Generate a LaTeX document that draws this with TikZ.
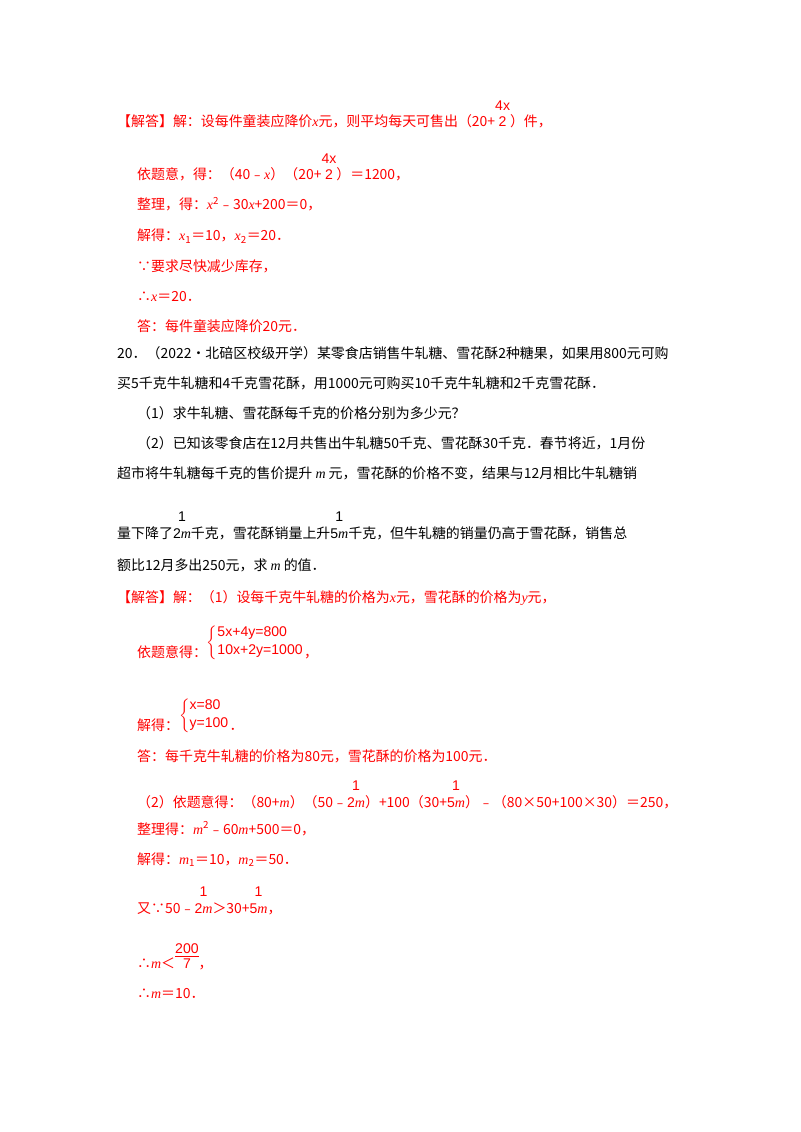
\documentclass[tikz,border=0pt]{standalone}
\usepackage{fontspec}
\setmainfont{Noto Sans CJK SC}
\newfontfamily\lser{Liberation Serif}
\newfontfamily\lsans{Liberation Sans}
\definecolor{ansred}{RGB}{255,0,0}
\newcommand\vr[1]{{\lser\itshape #1}}
\newcommand\fr[2]{\begin{tabular}[b]{@{}c@{}}{\lsans\large #1}\\[0em]{\lsans\large #2}\end{tabular}}
\newcommand\frl[2]{\begin{tabular}[b]{@{}c@{}}{\lsans\large #1}\\[-0.2em]\hline{\lsans\large #2}\end{tabular}}
\newcommand\sys[2]{\raisebox{0.8em}{$\left\{\begin{array}{@{}l@{}}\text{\lsans\large #1}\\[0.1em]\text{\lsans\large #2}\end{array}\right.$}}
\usepackage{amsmath}
\tikzset{
  ln/.style={anchor=base west, inner sep=0pt, font=\fontsize{11.9}{14}\selectfont},
  ans/.style={ln, text=ansred}
}
\begin{document}
\begin{tikzpicture}[x=0.03cm,y=-0.03cm]
\useasboundingbox (0,0) rectangle (800,1132);
% first answer
\node[ans] (a1) at (117,127) {【解答】解：设每件童装应降价\vr{x}元，则平均每天可售出（20+\fr{4x}{2}）件，};
\node[ans] (a2) at (137,180) {依题意，得：（40﹣\vr{x}）（20+\fr{4x}{2}）＝1200，};
\node[ans] (a3) at (137,210) {整理，得：\vr{x}\textsuperscript{2}﹣30\vr{x}+200＝0，};
\node[ans] (a4) at (137,241) {解得：\vr{x}\textsubscript{1}＝10，\vr{x}\textsubscript{2}＝20．};
\node[ans] (a5) at (137,271) {∵要求尽快减少库存，};
\node[ans] (a6) at (137,301) {∴\vr{x}＝20．};
\node[ans] (a7) at (137,331) {答：每件童装应降价20元．};
% problem 20
\node[ln] (q1) at (117,358) {20．（2022•北碚区校级开学）某零食店销售牛轧糖、雪花酥2种糖果，如果用800元可购};
\node[ln] (q2) at (117,388) {买5千克牛轧糖和4千克雪花酥，用1000元可购买10千克牛轧糖和2千克雪花酥．};
\node[ln] (q3) at (137,418) {（1）求牛轧糖、雪花酥每千克的价格分别为多少元？};
\node[ln] (q4) at (137,448) {（2）已知该零食店在12月共售出牛轧糖50千克、雪花酥30千克．春节将近，1月份};
\node[ln] (q5) at (117,478) {超市将牛轧糖每千克的售价提升 \vr{m} 元，雪花酥的价格不变，结果与12月相比牛轧糖销};
\node[ln] (q6) at (117,538) {量下降了\fr{1}{2\vr{m}}千克，雪花酥销量上升\fr{1}{5\vr{m}}千克，但牛轧糖的销量仍高于雪花酥，销售总};
\node[ln] (q7) at (117,570) {额比12月多出250元，求 \vr{m} 的值．};
% answer to 20
\node[ans] (b1) at (117,602) {【解答】解：（1）设每千克牛轧糖的价格为\vr{x}元，雪花酥的价格为\vr{y}元，};
\node[ans] (b2) at (137,657) {依题意得：\sys{5x+4y=800}{10x+2y=1000}，};
\node[ans] (b3) at (137,730) {解得：\sys{x=80}{y=100}．};
\node[ans] (b4) at (137,761) {答：每千克牛轧糖的价格为80元，雪花酥的价格为100元．};
\node[ans] (b5) at (137,807) {（2）依题意得：（80+\vr{m}）（50﹣\fr{1}{2\vr{m}}）+100（30+\fr{1}{5\vr{m}}）﹣（80×50+100×30）＝250，};
\node[ans] (b6) at (137,834) {整理得：\vr{m}\textsuperscript{2}﹣60\vr{m}+500＝0，};
\node[ans] (b7) at (137,864) {解得：\vr{m}\textsubscript{1}＝10，\vr{m}\textsubscript{2}＝50．};
\node[ans] (b8) at (137,913) {又∵50﹣\fr{1}{2\vr{m}}＞30+\fr{1}{5\vr{m}}，};
\node[ans] (b9) at (137,968) {∴\vr{m}＜\frl{200}{7}，};
\node[ans] (b10) at (137,998) {∴\vr{m}＝10．};
\end{tikzpicture}
\end{document}
